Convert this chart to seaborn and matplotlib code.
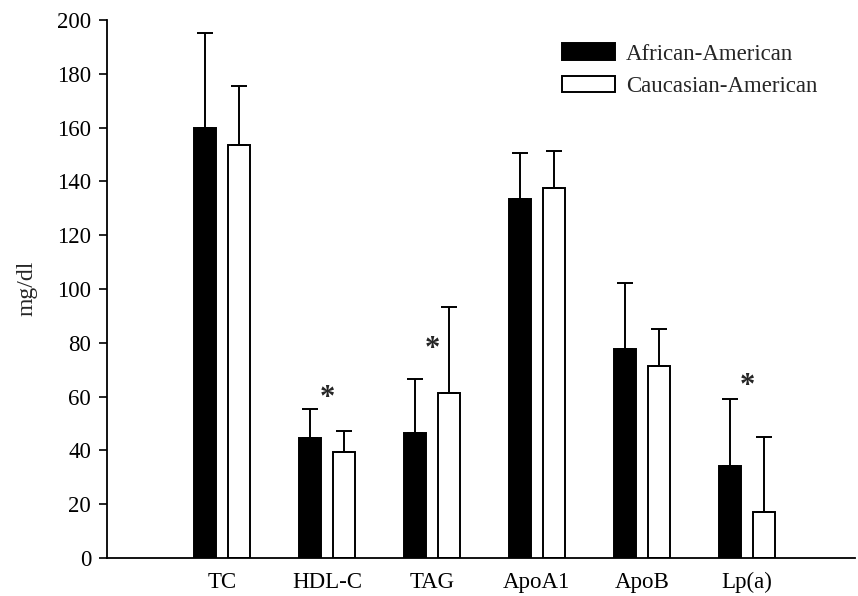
import matplotlib
matplotlib.use("Agg")
import matplotlib.pyplot as plt
import numpy as np
import pandas as pd
import seaborn as sns

lipids = ["TC", "HDL-C", "TAG", "ApoA1", "ApoB", "Lp(a)"]
groups = ["African-American", "Caucasian-American"]
african_mean = [160, 44.5, 46.3, 133.5, 77.6, 34.2]
african_err = [35, 10.8, 20.1, 16.9, 24.7, 24.9]
caucasian_mean = [153.5, 39.3, 61.5, 137.4, 71.4, 17.1]
caucasian_err = [22, 7.9, 31.7, 14.0, 13.7, 27.9]
sig_idx = [1, 2, 5]
sig_y = [56.5, 74.6, 60.9]

df = pd.DataFrame({
    "lipid": lipids * 2,
    "group": [groups[0]] * 6 + [groups[1]] * 6,
    "mean": african_mean + caucasian_mean,
})

sns.set_style("white")
plt.rcParams["font.family"] = ["Liberation Serif", "DejaVu Serif"]
plt.rcParams["font.size"] = 16.5

fig = plt.figure(figsize=(8.58, 5.96), dpi=100)
ax = fig.add_axes([0.1247, 0.0638, 0.8718, 0.9027])

sns.barplot(data=df, x="lipid", y="mean", hue="group", palette=["black", "white"],
            edgecolor="black", linewidth=1.4, width=0.65, gap=0.35,
            errorbar=None, ax=ax)

# upper-only error bars on each bar
for cont, errs in zip(ax.containers, [african_err, caucasian_err]):
    xs = [p.get_x() + p.get_width() / 2 for p in cont.patches]
    tops = [p.get_height() for p in cont.patches]
    ax.errorbar(xs, tops, yerr=[np.zeros(len(errs)), errs], fmt="none",
                ecolor="black", elinewidth=1.4, capsize=6, capthick=1.4, zorder=3)

for i, y in zip(sig_idx, sig_y):
    ax.text(i, y, "*", ha="center", va="baseline", fontsize=22, fontweight="bold")

ax.set_xlim(-1.095, 6.03)
ax.set_ylim(0, 200)
ax.set_yticks(np.arange(0, 201, 20))
ax.set_xlabel("")
ax.set_ylabel("mg/dl", fontsize=17)
ax.yaxis.set_label_coords(-0.093, 0.502)

sns.despine(ax=ax)
for s in ["left", "bottom"]:
    ax.spines[s].set_linewidth(1.3)
    ax.spines[s].set_color("black")
ax.tick_params(axis="y", direction="out", length=5.5, width=1.2, pad=6, left=True,
               labelsize=16.5, colors="black")
ax.tick_params(axis="x", length=0, pad=10, labelsize=16.5, colors="black")

handles, labels = ax.get_legend_handles_labels()
ax.legend(handles, labels, loc="upper left", bbox_to_anchor=(562 / 858, 1 - 43.5 / 596),
          bbox_transform=fig.transFigure, frameon=False, borderpad=0, borderaxespad=0,
          handlelength=2.3, handleheight=0.7, handletextpad=0.5, labelspacing=0.5,
          fontsize=16.5)

plt.savefig("out.png", dpi=100)
